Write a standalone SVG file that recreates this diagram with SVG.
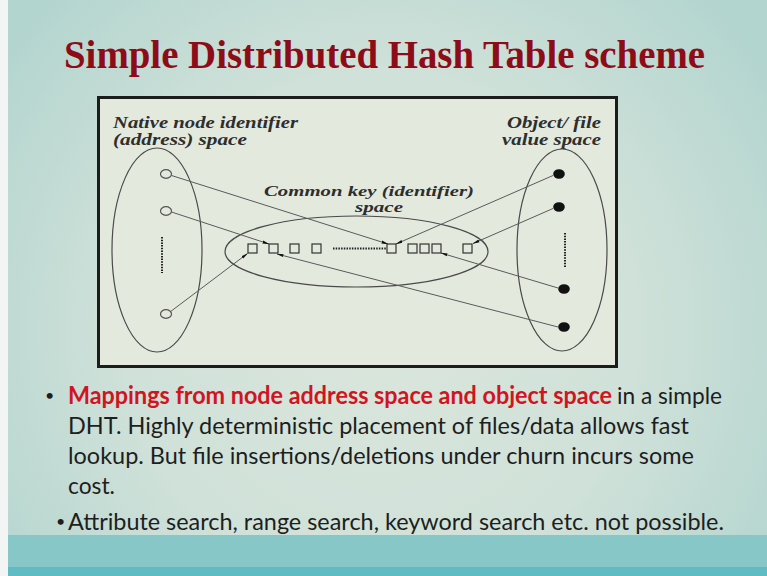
<svg xmlns="http://www.w3.org/2000/svg" width="767" height="576" viewBox="0 0 767 576">
  <defs>
    <radialGradient id="bg" cx="380" cy="330" r="470" gradientUnits="userSpaceOnUse">
      <stop offset="0" stop-color="#dbe6dc"/>
      <stop offset="0.55" stop-color="#cfe1d9"/>
      <stop offset="1" stop-color="#b3d5cf"/>
    </radialGradient>
    <marker id="arr" markerWidth="7" markerHeight="5" refX="6.5" refY="2.5" orient="auto" markerUnits="userSpaceOnUse">
      <path d="M0,1 L7,2.5 L0,4 z" fill="#111"/>
    </marker>
    <style>
      .title { font-family: "Liberation Serif", serif; font-weight: bold; font-size: 39px; fill: #8e0c18; }
      .lbl { font-family: "Liberation Serif", serif; font-style: italic; font-weight: bold; font-size: 16px; fill: #2e2e2e; }
      .lbl-s { font-size: 15px; }
      .body { font-family: Lato, "Open Sans", sans-serif; font-size: 24px; fill: #1e1e1e; }
      .bul { font-family: Lato, "Open Sans", sans-serif; font-size: 16px; fill: #1e1e1e; }
      .red { fill: #d2141f; font-weight: bold; }
      .space { fill: none; stroke: #4a4a4a; stroke-width: 1.2; }
      .node { fill: none; stroke: #555; stroke-width: 1.2; }
      .obj { fill: #111; }
      .key { fill: none; stroke: #333; stroke-width: 1.2; }
      .map { fill: none; stroke: #5a5a5a; stroke-width: 1; marker-end: url(#arr); }
      .dots { stroke: #222; stroke-width: 2; stroke-dasharray: 1.5 1.2; }
    </style>
  </defs>

  <!-- slide background -->
  <rect x="0" y="0" width="767" height="576" fill="url(#bg)"/>
  <rect x="0" y="535" width="767" height="33" fill="#88c7c8"/>
  <rect x="0" y="567" width="767" height="9" fill="#5fbbc4"/>
  <rect x="0" y="0" width="8" height="576" fill="#f3f5f4"/>

  <!-- title -->
  <text class="title" x="64" y="68" textLength="641" lengthAdjust="spacingAndGlyphs">Simple Distributed Hash Table scheme</text>

  <!-- figure frame -->
  <rect x="98.5" y="97.5" width="518" height="269" fill="#e4e9de" stroke="#1c1c1c" stroke-width="3"/>

  <!-- space labels -->
  <g id="label-native">
    <text class="lbl" x="113" y="128" textLength="185" lengthAdjust="spacingAndGlyphs">Native node identifier</text>
    <text class="lbl" x="113" y="145" textLength="134" lengthAdjust="spacingAndGlyphs">(address) space</text>
  </g>
  <g id="label-object">
    <text class="lbl" x="601" y="128" text-anchor="end" textLength="94" lengthAdjust="spacingAndGlyphs">Object/ file</text>
    <text class="lbl" x="601" y="145" text-anchor="end" textLength="99" lengthAdjust="spacingAndGlyphs">value space</text>
  </g>
  <g id="label-key">
    <text class="lbl lbl-s" x="264" y="196" textLength="210" lengthAdjust="spacingAndGlyphs">Common key (identifier)</text>
    <text class="lbl lbl-s" x="355" y="212" textLength="48" lengthAdjust="spacingAndGlyphs">space</text>
  </g>

  <!-- native node address space -->
  <g id="native-space">
    <ellipse class="space" cx="157" cy="250" rx="45" ry="102"/>
    <ellipse class="node" cx="166" cy="174" rx="5.5" ry="4.3"/>
    <ellipse class="node" cx="166" cy="211" rx="5.5" ry="4.3"/>
    <ellipse class="node" cx="166" cy="314" rx="5.5" ry="4.3"/>
    <line class="dots" x1="162" y1="237" x2="162" y2="273"/>
  </g>

  <!-- object / file value space -->
  <g id="object-space">
    <ellipse class="space" cx="562" cy="250" rx="45" ry="101"/>
    <ellipse class="obj" cx="559" cy="174" rx="5.8" ry="4.8"/>
    <ellipse class="obj" cx="559" cy="207" rx="5.8" ry="4.8"/>
    <ellipse class="obj" cx="564" cy="289" rx="5.8" ry="4.8"/>
    <ellipse class="obj" cx="564" cy="327" rx="5.8" ry="4.8"/>
    <line class="dots" x1="565" y1="233" x2="565" y2="268"/>
  </g>

  <!-- common key space -->
  <g id="key-space">
    <ellipse class="space" cx="356.5" cy="251.5" rx="131.5" ry="35.5"/>
    <rect class="key" x="248" y="244" width="9" height="9"/>
    <rect class="key" x="269" y="244" width="9" height="9"/>
    <rect class="key" x="290" y="244" width="9" height="9"/>
    <rect class="key" x="312" y="244" width="9" height="9"/>
    <line class="dots" x1="333" y1="248.5" x2="386" y2="248.5" stroke-width="1.6"/>
    <rect class="key" x="387" y="244" width="9" height="9"/>
    <rect class="key" x="408" y="244" width="9" height="9"/>
    <rect class="key" x="420" y="244" width="9" height="9"/>
    <rect class="key" x="432" y="244" width="9" height="9"/>
    <rect class="key" x="463" y="244" width="9" height="9"/>
  </g>

  <!-- mappings into the key space -->
  <g id="connectors">
    <line class="map" x1="171.5" y1="175.5" x2="388" y2="244"/>
    <line class="map" x1="171.5" y1="212" x2="269" y2="244"/>
    <line class="map" x1="170" y1="312" x2="247.5" y2="253.5"/>
    <line class="map" x1="558" y1="327" x2="277" y2="254"/>
    <line class="map" x1="553" y1="175.5" x2="396" y2="244"/>
    <line class="map" x1="553" y1="208.5" x2="473" y2="243.5"/>
    <line class="map" x1="558" y1="288" x2="441" y2="253"/>
  </g>

  <!-- bullet text -->
  <g id="bullets">
    <text class="bul" x="45" y="401">•</text>
    <text class="body red" x="68" y="404" textLength="544" lengthAdjust="spacingAndGlyphs">Mappings from node address space and object space</text>
    <text class="body" x="617" y="404" textLength="105" lengthAdjust="spacingAndGlyphs">in a simple</text>
    <text class="body" x="68" y="434" textLength="621" lengthAdjust="spacingAndGlyphs">DHT.  Highly deterministic placement of files/data allows fast</text>
    <text class="body" x="68" y="464" textLength="626" lengthAdjust="spacingAndGlyphs">lookup.  But file insertions/deletions under churn incurs some</text>
    <text class="body" x="68" y="494" textLength="47" lengthAdjust="spacingAndGlyphs">cost.</text>
    <text class="bul" x="56" y="527">•</text>
    <text class="body" x="68" y="530" textLength="656" lengthAdjust="spacingAndGlyphs">Attribute search, range search, keyword search etc.  not possible.</text>
  </g>
</svg>
